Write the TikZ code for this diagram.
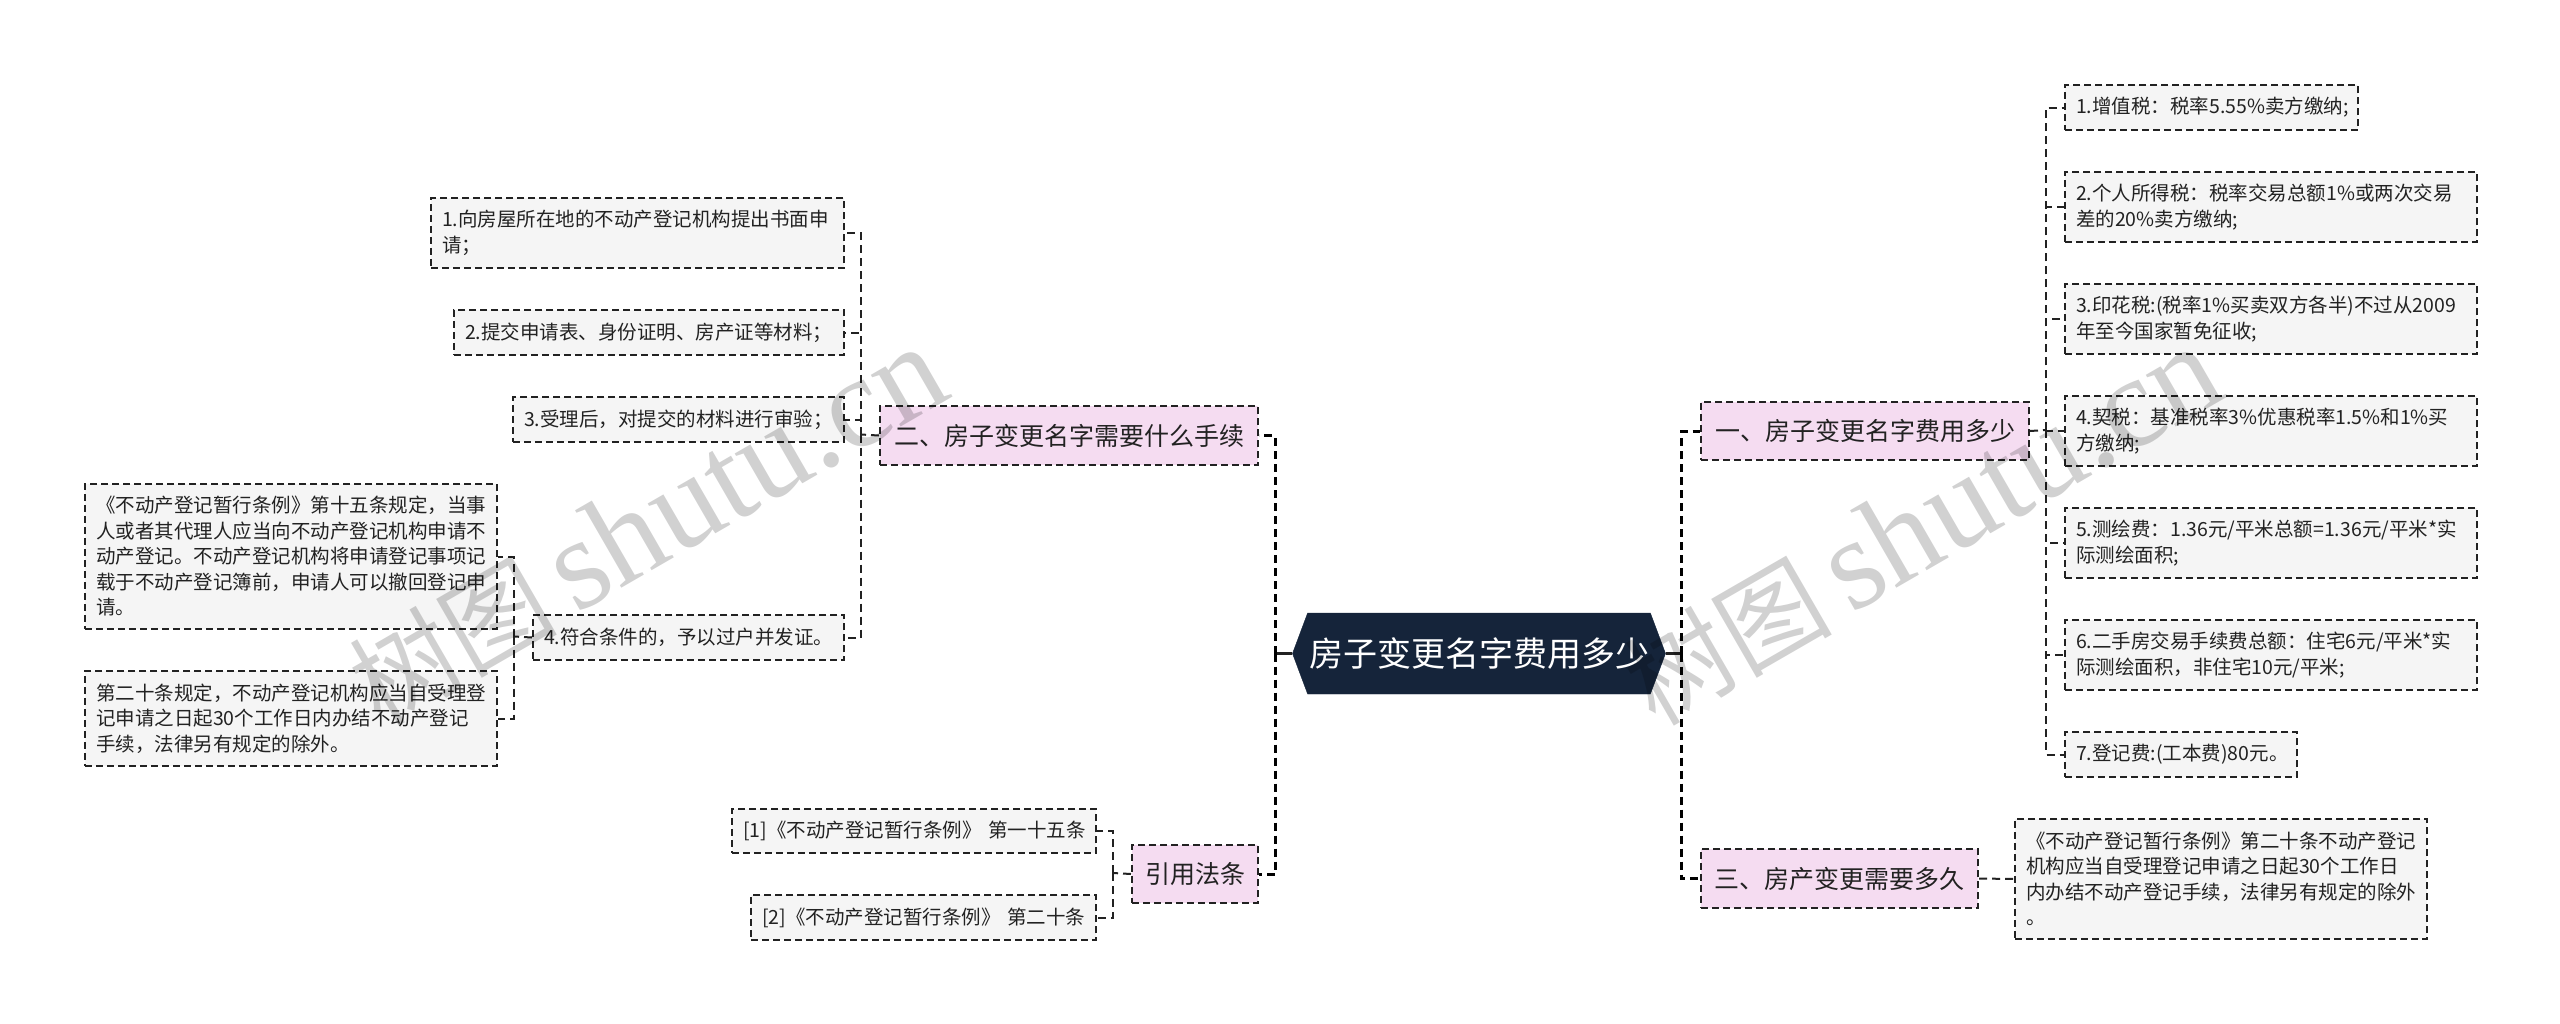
\documentclass[tikz,border=0pt]{standalone}
\usepackage{fontspec}
\setmainfont{Noto Sans CJK SC}
\newfontfamily\markfont{Liberation Serif}
\usetikzlibrary{shapes.symbols,positioning}
\definecolor{rootfill}{HTML}{15243A}
\definecolor{hubfill}{HTML}{F5DCF1}
\definecolor{leaffill}{HTML}{F5F5F5}
\definecolor{inkline}{HTML}{222222}
\newcommand{\stamptext}{{\fontsize{104}{130}\selectfont 树图}\hspace{18pt}{\markfont\fontsize{130}{130}\selectfont shutu.cn}}
\tikzset{
    rootbox/.style={signal, signal to=east and west, signal pointer angle=139, fill=rootfill, draw=rootfill, text=white, minimum width=373pt, minimum height=81pt, inner xsep=0pt, inner ysep=0pt, font=\fontsize{34}{40}\selectfont},
    hubbox/.style={draw=inkline, fill=hubfill, line width=2pt, dash pattern=on 7pt off 4pt, anchor=north west, inner sep=0pt, text=inkline, font=\fontsize{25}{30}\selectfont},
    leafbox/.style={draw=inkline, fill=leaffill, line width=2pt, dash pattern=on 7pt off 4pt, anchor=north west, inner xsep=11pt, inner ysep=0pt, align=left, text=inkline, font=\fontsize{19.5}{25.5}\selectfont},
    rootlink/.style={draw=inkline, line width=3.5pt},
    hublink/.style={draw=black, line width=3pt, dash pattern=on 8pt off 5pt},
    leaflink/.style={draw=inkline, line width=2pt, dash pattern=on 8pt off 5pt},
    stamp/.style={text=black, text opacity=0.18, rotate=30}
}
\begin{document}
\begin{tikzpicture}[x=1pt, y=-1pt]
    \useasboundingbox (0,0) rectangle (2560,1023);
    \node [rootbox] (root) at (1479,653.5) {房子变更名字费用多少};

    % Branches
    \node [hubbox, minimum width=328pt, minimum height=58pt] (hubfee) at (1700,401) {一、房子变更名字费用多少};
    \node [hubbox, minimum width=277pt, minimum height=59pt] (hubtime) at (1700,848) {三、房产变更需要多久};
    \node [hubbox, minimum width=378pt, minimum height=59pt] (hubproc) at (879,405) {二、房子变更名字需要什么手续};
    \node [hubbox, minimum width=126pt, minimum height=58pt] (hubref) at (1131,844) {引用法条};

    % Right Side
    \foreach \nm/\y/\w/\h/\lab in {
        tax1/84/271/45/{1.增值税：税率5.55\%卖方缴纳;},
        tax2/171/390/70/{2.个人所得税：税率交易总额1\%或两次交易\\差的20\%卖方缴纳;},
        tax3/283/390/70/{3.印花税:(税率1\%买卖双方各半)不过从2009\\年至今国家暂免征收;},
        tax4/395/390/70/{4.契税：基准税率3\%优惠税率1.5\%和1\%买\\方缴纳;},
        tax5/507/390/70/{5.测绘费：1.36元/平米总额=1.36元/平米*实\\际测绘面积;},
        tax6/619/390/70/{6.二手房交易手续费总额：住宅6元/平米*实\\际测绘面积，非住宅10元/平米;},
        tax7/731/210/45/{7.登记费:(工本费)80元。}} {
        \node [leafbox, text width=\w pt, minimum height=\h pt] (\nm) at (2064,\y) {\lab};
    }
    \node [leafbox, text width=390pt, minimum height=120pt] (timenote) at (2014,818) {《不动产登记暂行条例》第二十条不动产登记\\机构应当自受理登记申请之日起30个工作日\\内办结不动产登记手续，法律另有规定的除外\\。};

    % Left Side
    \foreach \nm/\x/\y/\w/\h/\lab in {
        proc1/430/197/391/70/{1.向房屋所在地的不动产登记机构提出书面申\\请；},
        proc2/453/309/368/45/{2.提交申请表、身份证明、房产证等材料；},
        proc3/512/396/309/45/{3.受理后，对提交的材料进行审验；},
        proc4/532/614/289/45/{4.符合条件的，予以过户并发证。},
        law1/84/483/390/145/{《不动产登记暂行条例》第十五条规定，当事\\人或者其代理人应当向不动产登记机构申请不\\动产登记。不动产登记机构将申请登记事项记\\载于不动产登记簿前，申请人可以撤回登记申\\请。},
        law2/84/670/390/95/{第二十条规定，不动产登记机构应当自受理登\\记申请之日起30个工作日内办结不动产登记\\手续，法律另有规定的除外。},
        ref1/731/808/342/44/{\mbox{[1]《不动产登记暂行条例》 第一十五条}},
        ref2/750/894/323/45/{\mbox{[2]《不动产登记暂行条例》 第二十条}}} {
        \node [leafbox, text width=\w pt, minimum height=\h pt] (\nm) at (\x,\y) {\lab};
    }

    % Connectors
    \coordinate (jleft) at (1275,653.5);
    \coordinate (jright) at (1681,653.5);
    \coordinate (jfee) at (2046,430);
    \coordinate (jproc) at (861,434.5);
    \coordinate (jlaw) at (514,636.5);
    \coordinate (jref) at (1113,873);
    \draw [rootlink] (root.west) -- (jleft);
    \draw [rootlink] (root.east) -- (jright);
    \foreach \nm in {hubproc,hubref} {
        \draw [hublink] (jleft) |- (\nm.east);
    }
    \foreach \nm in {hubfee,hubtime} {
        \draw [hublink] (jright) |- (\nm.west);
    }
    \draw [leaflink] (hubfee.east) -- (jfee);
    \foreach \i in {1,...,7} {
        \draw [leaflink] (jfee) |- (tax\i.west);
    }
    \draw [leaflink] (hubtime.east) -- (timenote.west);
    \draw [leaflink] (hubproc.west) -- (jproc);
    \foreach \i in {1,...,4} {
        \draw [leaflink] (jproc) |- (proc\i.east);
    }
    \draw [leaflink] (proc4.west) -- (jlaw);
    \foreach \i in {1,2} {
        \draw [leaflink] (jlaw) |- (law\i.east);
    }
    \draw [leaflink] (hubref.west) -- (jref);
    \foreach \i in {1,2} {
        \draw [leaflink] (jref) |- (ref\i.east);
    }

    % Watermarks
    \node [stamp] (markleft) at (647,526.5) {\stamptext};
    \node [stamp] (markright) at (1922,526.5) {\stamptext};
\end{tikzpicture}
\end{document}
